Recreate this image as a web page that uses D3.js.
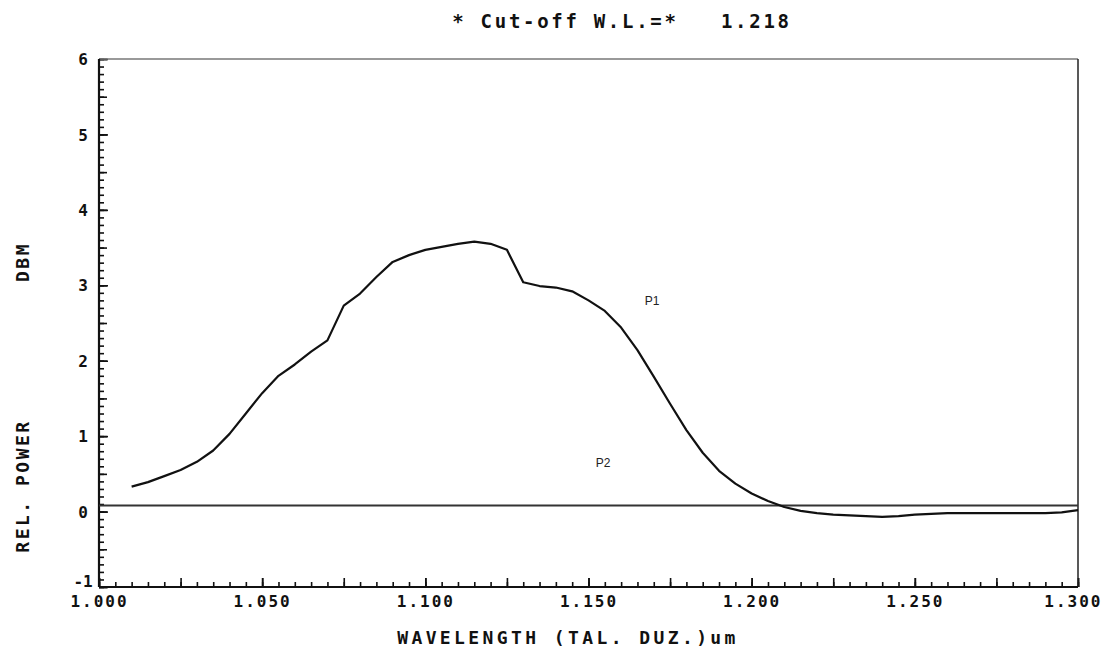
<!DOCTYPE html>
<html>
<head>
<meta charset="utf-8">
<script src="https://cdn.jsdelivr.net/npm/d3@7"></script>
<style>
  body { margin: 0; background: #fff; }
  svg { display: block; }
  .mono { font-family: "DejaVu Sans Mono", "Liberation Mono", monospace; fill: #111; font-weight: bold; }
</style>
</head>
<body>
<div id="chart"></div>
<script>
// --- Chart datas
const titleText = "* Cut-off W.L.=*   1.218";
const xLabel = "WAVELENGTH (TAL. DUZ.)um";
const yLabelLeft = "REL. POWER";
const yLabelRight = "DBM";

// P1 : measured relative power (dBm) vs wavelength (um)
const p1Wavelengths = [
  1.010, 1.015, 1.020, 1.025, 1.030, 1.035, 1.040, 1.045, 1.050, 1.055,
  1.060, 1.065, 1.070, 1.075, 1.080, 1.085, 1.090, 1.095, 1.100, 1.105,
  1.110, 1.115, 1.120, 1.125, 1.130, 1.135, 1.140, 1.145, 1.150, 1.155,
  1.160, 1.165, 1.170, 1.175, 1.180, 1.185, 1.190, 1.195, 1.200, 1.205,
  1.210, 1.215, 1.220, 1.225, 1.230, 1.235, 1.240, 1.245, 1.250, 1.255,
  1.260, 1.270, 1.280, 1.290, 1.295, 1.300
];
const p1Power = [
  0.33, 0.39, 0.47, 0.55, 0.66, 0.81, 1.03, 1.30, 1.57, 1.80,
  1.95, 2.12, 2.27, 2.73, 2.89, 3.11, 3.31, 3.40, 3.47, 3.51,
  3.55, 3.58, 3.55, 3.47, 3.04, 2.99, 2.97, 2.92, 2.80, 2.66,
  2.44, 2.14, 1.79, 1.43, 1.08, 0.78, 0.54, 0.37, 0.24, 0.14,
  0.06, 0.01, -0.02, -0.04, -0.05, -0.06, -0.07, -0.06, -0.04, -0.03,
  -0.02, -0.02, -0.02, -0.02, -0.01, 0.02
];

// P2 : reference level, flat over the whole range
const p2Wavelengths = [1.000, 1.300];
const p2Power = [0.08, 0.08];

// curve tags, in data units
const curveTags = ["P1", "P2"];
const tagWavelengths = [1.1695, 1.1545];
const tagPower = [2.79, 0.64];

// axes
const xTickValues = [1.000, 1.050, 1.100, 1.150, 1.200, 1.250, 1.300];
const xTickLabels = ["1.000", "1.050", "1.100", "1.150", "1.200", "1.250", "1.300"];
const yTickValues = [-1, 0, 1, 2, 3, 4, 5, 6];
const yTickLabels = ["-1", "0", "1", "2", "3", "4", "5", "6"];

// --- Layout
const width = 1103;
const height = 650;
const margin = { top: 59, right: 25, bottom: 63, left: 99 };

const svg = d3.select("#chart")
  .append("svg")
  .attr("width", width)
  .attr("height", height)
  .attr("viewBox", [0, 0, width, height]);

const xScale = d3.scaleLinear()
  .domain([1.0, 1.3])
  .range([margin.left, width - margin.right]);

const yScale = d3.scaleLinear()
  .domain([-1, 6])
  .range([height - margin.bottom, margin.top]);

// minor ticks (inward)
const xMinor = d3.range(0, 61).map(i => 1.0 + i * 0.005);
const xMid = d3.range(0, 13).map(i => 1.0 + i * 0.025);
const yMinor = d3.range(0, 71).map(i => -1 + i * 0.1);
const yMid = d3.range(0, 15).map(i => -1 + i * 0.5);

function styleAxis(g) {
  g.select(".domain").remove();
  g.selectAll(".tick line").attr("stroke", "#111").attr("stroke-width", 1.6);
}

// --- Bottom axis
svg.append("g")
  .attr("transform", `translate(0, ${yScale(-1)})`)
  .call(d3.axisBottom(xScale).tickValues(xMinor).tickSizeInner(-5).tickSizeOuter(0).tickFormat(""))
  .call(styleAxis);

svg.append("g")
  .attr("transform", `translate(0, ${yScale(-1)})`)
  .call(d3.axisBottom(xScale).tickValues(xMid).tickSizeInner(-9).tickSizeOuter(0).tickFormat(""))
  .call(styleAxis);

svg.append("g")
  .attr("class", "axisBottom")
  .attr("transform", `translate(0, ${yScale(-1)})`)
  .call(d3.axisBottom(xScale)
    .tickValues(xTickValues)
    .tickSizeInner(-9)
    .tickSizeOuter(0)
    .tickPadding(9)
    .tickFormat((d, i) => xTickLabels[i]))
  .call(styleAxis)
  .call(g => g.selectAll("text")
    .attr("class", "mono")
    .attr("text-anchor", (d, i) => i === xTickValues.length - 1 ? "end" : "middle")
    .attr("x", (d, i) => i === xTickValues.length - 1 ? 24 : 0)
    .style("font-size", "16px")
    .style("letter-spacing", "2px"));

// --- Left axis
svg.append("g")
  .attr("transform", `translate(${margin.left}, 0)`)
  .call(d3.axisLeft(yScale).tickValues(yMinor).tickSizeInner(-5).tickSizeOuter(0).tickFormat(""))
  .call(styleAxis);

svg.append("g")
  .attr("transform", `translate(${margin.left}, 0)`)
  .call(d3.axisLeft(yScale).tickValues(yMid).tickSizeInner(-8).tickSizeOuter(0).tickFormat(""))
  .call(styleAxis);

svg.append("g")
  .attr("class", "axisLeft")
  .attr("transform", `translate(${margin.left}, 0)`)
  .call(d3.axisLeft(yScale)
    .tickValues(yTickValues)
    .tickSizeInner(-9)
    .tickSizeOuter(0)
    .tickPadding(16)
    .tickFormat((d, i) => yTickLabels[i]))
  .call(styleAxis)
  .call(g => g.selectAll("text")
    .attr("class", "mono")
    .attr("text-anchor", "middle")
    .attr("dy", d => d === -1 ? "-0.05em" : "0.35em")
    .style("font-size", "16px"));

// --- Frame
const frame = svg.append("g").attr("class", "frame").attr("fill", "none");
frame.append("line")
  .attr("x1", xScale(1.0)).attr("x2", xScale(1.3))
  .attr("y1", yScale(6)).attr("y2", yScale(6))
  .attr("stroke", "#777").attr("stroke-width", 1.5);
frame.append("line")
  .attr("x1", xScale(1.3)).attr("x2", xScale(1.3))
  .attr("y1", yScale(6)).attr("y2", yScale(-1))
  .attr("stroke", "#222").attr("stroke-width", 1.5);
frame.append("line")
  .attr("x1", xScale(1.0)).attr("x2", xScale(1.0))
  .attr("y1", yScale(6)).attr("y2", yScale(-1))
  .attr("stroke", "#111").attr("stroke-width", 2.2);
frame.append("line")
  .attr("x1", xScale(1.0)).attr("x2", xScale(1.3))
  .attr("y1", yScale(-1)).attr("y2", yScale(-1))
  .attr("stroke", "#111").attr("stroke-width", 2.2);

// --- Curves (plotter draws straight segments between samples)
const line = d3.line()
  .x(d => xScale(d[0]))
  .y(d => yScale(d[1]));

svg.append("path")
  .datum(d3.zip(p2Wavelengths, p2Power))
  .attr("class", "p2")
  .attr("fill", "none")
  .attr("stroke", "#333")
  .attr("stroke-width", 2)
  .attr("d", line);

svg.append("path")
  .datum(d3.zip(p1Wavelengths, p1Power))
  .attr("class", "p1")
  .attr("fill", "none")
  .attr("stroke", "#111")
  .attr("stroke-width", 2.2)
  .attr("stroke-linejoin", "round")
  .attr("d", line);

svg.append("g")
  .selectAll("text")
  .data(curveTags)
  .join("text")
  .attr("x", (d, i) => xScale(tagWavelengths[i]))
  .attr("y", (d, i) => yScale(tagPower[i]))
  .attr("dy", "0.35em")
  .attr("text-anchor", "middle")
  .style("font-family", "'Liberation Sans', Arial, sans-serif")
  .style("font-size", "12px")
  .attr("fill", "#222")
  .text(d => d);

// --- Titles
svg.append("text")
  .attr("class", "mono")
  .attr("x", 622)
  .attr("y", 28)
  .attr("text-anchor", "middle")
  .style("font-size", "19px")
  .style("letter-spacing", "2.7px")
  .style("white-space", "pre")
  .text(titleText);

svg.append("text")
  .attr("class", "mono")
  .attr("x", 568)
  .attr("y", 644)
  .attr("text-anchor", "middle")
  .style("font-size", "18px")
  .style("letter-spacing", "3.4px")
  .text(xLabel);

svg.append("text")
  .attr("class", "mono")
  .attr("transform", "translate(29, 486) rotate(-90)")
  .attr("text-anchor", "middle")
  .style("font-size", "18px")
  .style("letter-spacing", "2.5px")
  .text(yLabelLeft);

svg.append("text")
  .attr("class", "mono")
  .attr("transform", "translate(29, 262) rotate(-90)")
  .attr("text-anchor", "middle")
  .style("font-size", "18px")
  .style("letter-spacing", "2.5px")
  .text(yLabelRight);
</script>
</body>
</html>
